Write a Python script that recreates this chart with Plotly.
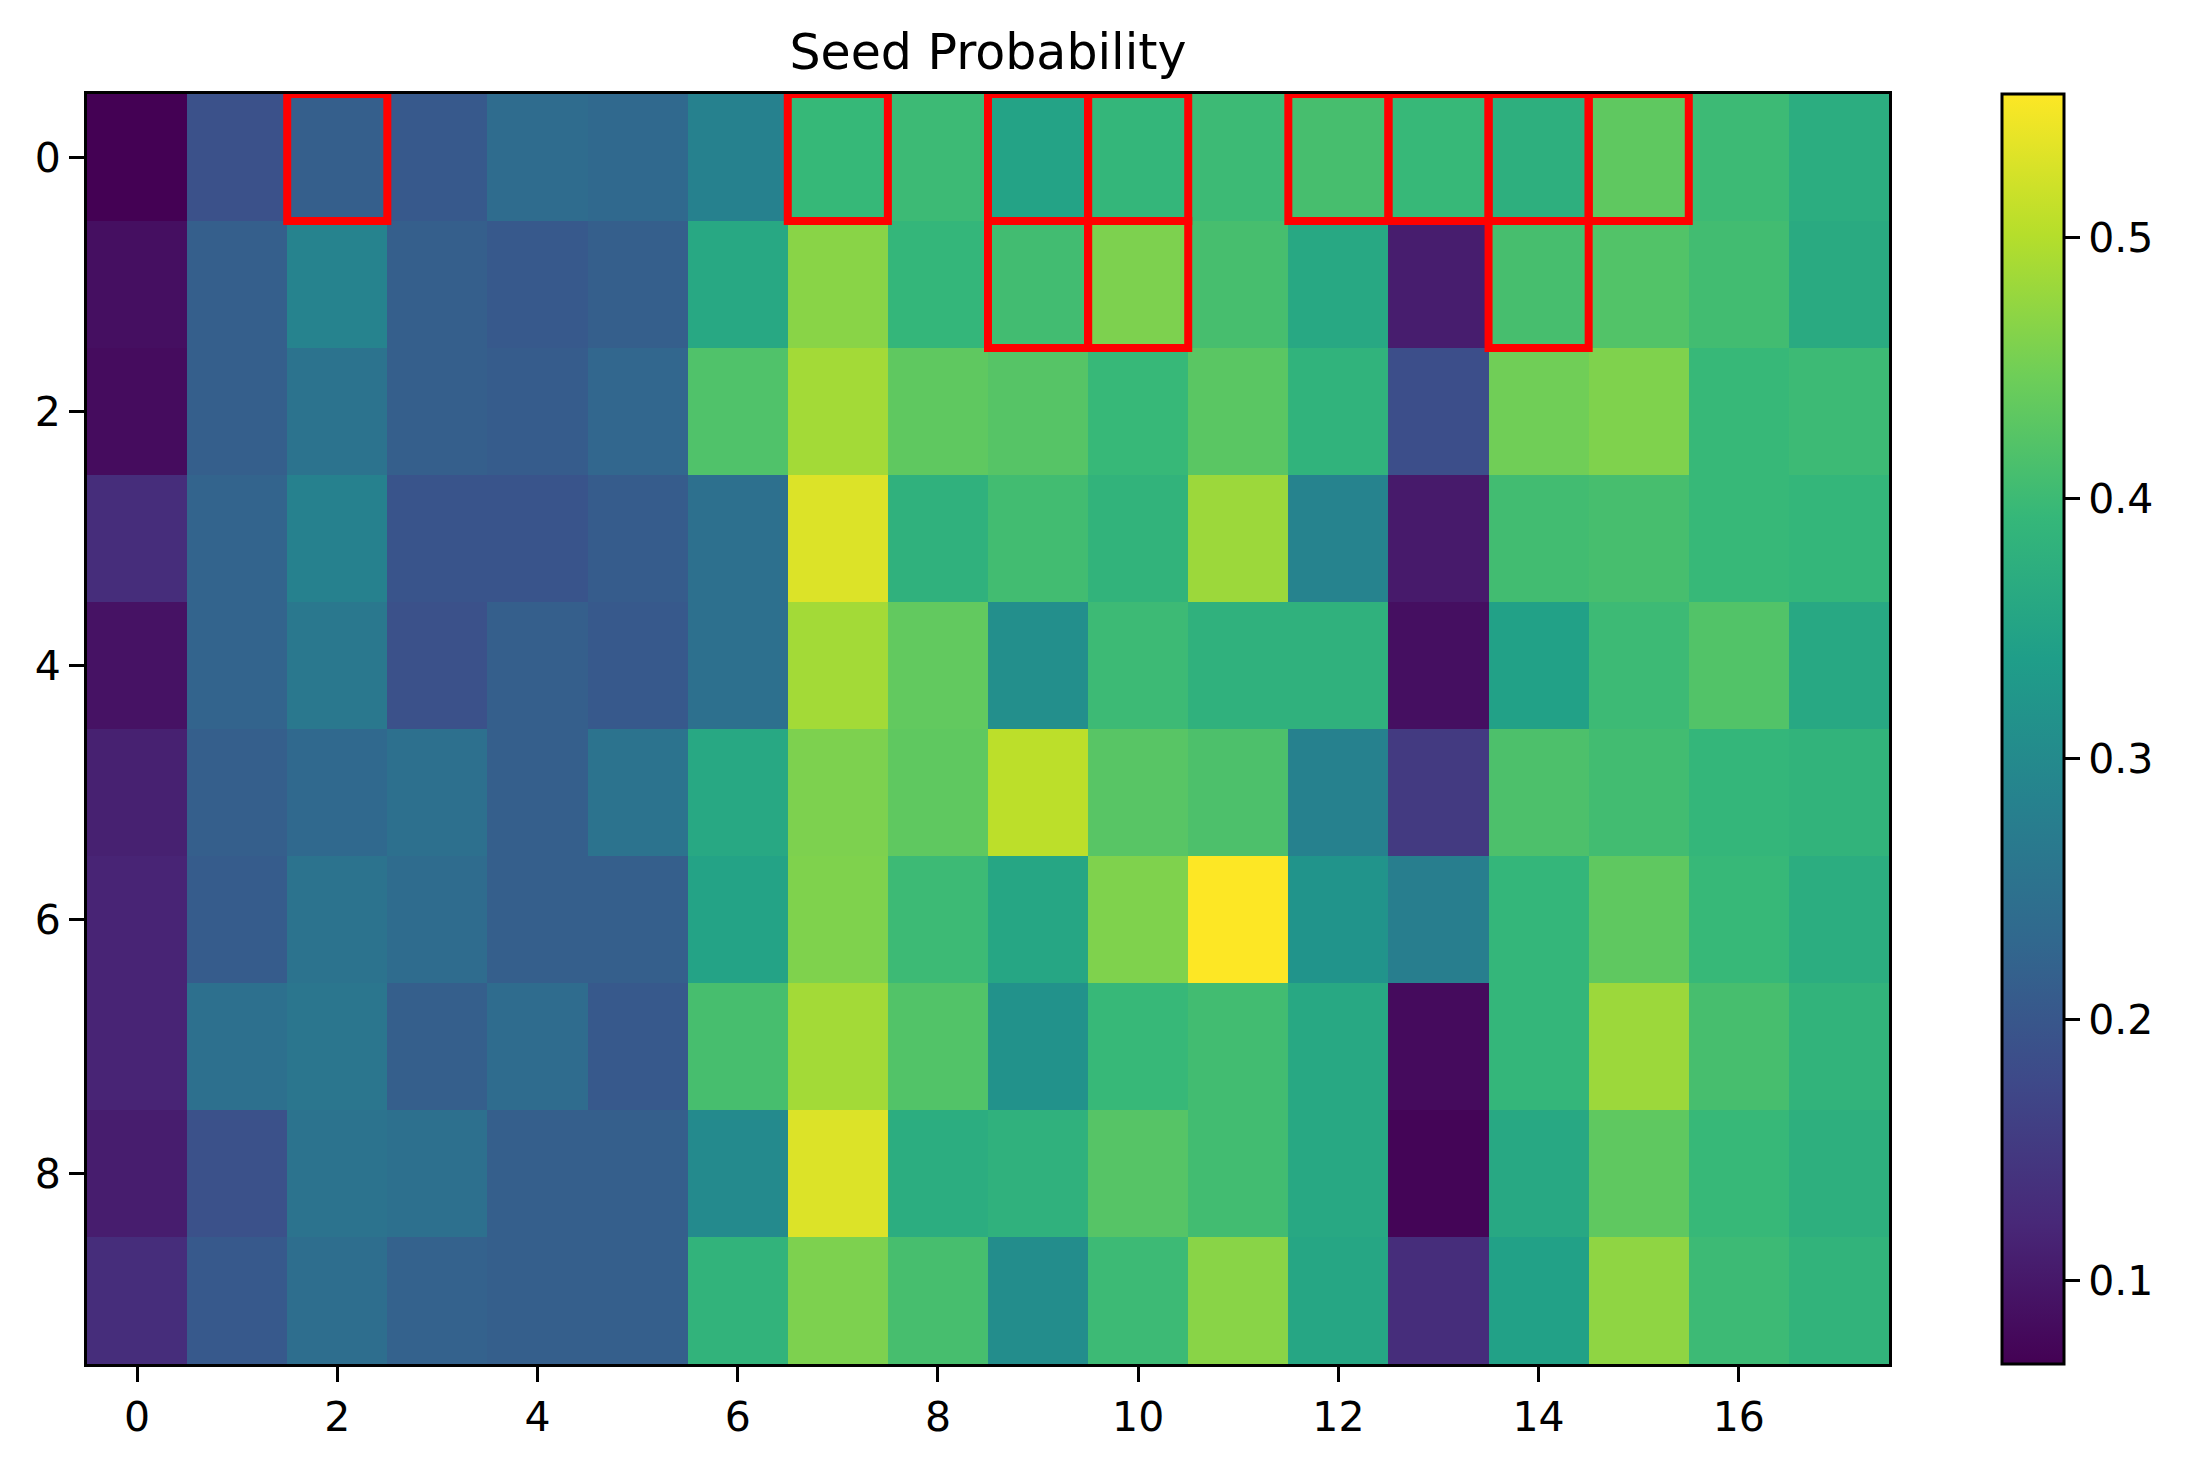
import plotly.graph_objects as go

# Seed probability grid (rows 0..9, columns 0..17)
row0 = [0.068, 0.190, 0.214, 0.204, 0.238, 0.233, 0.282, 0.394, 0.400, 0.350, 0.390, 0.400, 0.410, 0.395, 0.375, 0.433, 0.400, 0.370]
row1 = [0.087, 0.214, 0.287, 0.214, 0.204, 0.214, 0.360, 0.467, 0.390, 0.405, 0.458, 0.410, 0.360, 0.107, 0.410, 0.420, 0.405, 0.365]
row2 = [0.083, 0.214, 0.253, 0.214, 0.210, 0.228, 0.418, 0.487, 0.433, 0.424, 0.395, 0.428, 0.384, 0.185, 0.448, 0.460, 0.395, 0.400]
row3 = [0.131, 0.224, 0.282, 0.195, 0.195, 0.210, 0.248, 0.530, 0.380, 0.405, 0.385, 0.482, 0.287, 0.102, 0.405, 0.410, 0.395, 0.390]
row4 = [0.092, 0.224, 0.263, 0.190, 0.214, 0.204, 0.248, 0.487, 0.435, 0.310, 0.400, 0.380, 0.380, 0.087, 0.345, 0.400, 0.420, 0.360]
row5 = [0.112, 0.214, 0.233, 0.248, 0.214, 0.253, 0.360, 0.458, 0.433, 0.506, 0.426, 0.415, 0.282, 0.151, 0.415, 0.405, 0.390, 0.385]
row6 = [0.117, 0.210, 0.253, 0.238, 0.214, 0.214, 0.350, 0.460, 0.400, 0.355, 0.460, 0.555, 0.320, 0.277, 0.390, 0.433, 0.395, 0.370]
row7 = [0.117, 0.248, 0.260, 0.214, 0.238, 0.204, 0.410, 0.487, 0.420, 0.315, 0.395, 0.405, 0.360, 0.082, 0.390, 0.482, 0.410, 0.385]
row8 = [0.107, 0.190, 0.253, 0.248, 0.214, 0.214, 0.300, 0.530, 0.370, 0.380, 0.424, 0.405, 0.360, 0.073, 0.360, 0.433, 0.395, 0.375]
row9 = [0.131, 0.204, 0.243, 0.219, 0.214, 0.214, 0.385, 0.458, 0.410, 0.305, 0.400, 0.467, 0.355, 0.131, 0.345, 0.472, 0.400, 0.385]
z_values = [row0, row1, row2, row3, row4, row5, row6, row7, row8, row9]

# Highlighted cells (row, column)
highlight_cells = [(0, 2), (0, 7), (0, 9), (0, 10), (0, 12), (0, 13), (0, 14), (0, 15),
                   (1, 9), (1, 10), (1, 14)]

x_ticks = [0, 2, 4, 6, 8, 10, 12, 14, 16]
y_ticks = [0, 2, 4, 6, 8]
cbar_ticks = [0.1, 0.2, 0.3, 0.4, 0.5]
title_text = "Seed Probability"

n_rows = len(z_values)
n_cols = len(z_values[0])

FONT = "DejaVu Sans"
W, H = 2191, 1466
ML, MR, MT, MB = 87, 302, 94, 102
plot_w = W - ML - MR

fig = go.Figure()
fig.add_trace(go.Heatmap(
    z=z_values,
    x=list(range(n_cols)),
    y=list(range(n_rows)),
    colorscale="Viridis",
    colorbar=dict(
        x=(2002 - ML) / plot_w, xanchor="left", xpad=0, ypad=0,
        y=0.5, yanchor="middle", len=1, lenmode="fraction",
        thickness=62, thicknessmode="pixels",
        outlinecolor="black", outlinewidth=3,
        ticks="outside", ticklen=15, tickwidth=3, tickcolor="black",
        tickvals=cbar_ticks, ticktext=[f"{t:.1f}" for t in cbar_ticks],
        tickfont=dict(family=FONT, size=41, color="black"),
    ),
    hoverongaps=False,
))

for (r, c) in highlight_cells:
    fig.add_shape(type="rect", xref="x", yref="y",
                  x0=c - 0.5, x1=c + 0.5, y0=r - 0.5, y1=r + 0.5,
                  line=dict(color="red", width=8), fillcolor="rgba(0,0,0,0)",
                  layer="above")

axis_common = dict(showgrid=False, zeroline=False, showline=True, linecolor="black",
                   linewidth=3, mirror=True, ticks="outside", ticklen=15, tickwidth=3,
                   tickcolor="black", tickfont=dict(family=FONT, size=41, color="black"))

fig.update_xaxes(range=[-0.5, n_cols - 0.5], tickvals=x_ticks, **axis_common)
fig.update_yaxes(range=[n_rows - 0.5, -0.5], tickvals=y_ticks, **axis_common)

fig.update_layout(
    width=W, height=H,
    margin=dict(l=ML, r=MR, t=MT, b=MB, pad=0),
    paper_bgcolor="white", plot_bgcolor="white",
    title=dict(text=title_text, x=0.5, xref="paper", xanchor="center",
               y=1 - 52 / H, yref="container", yanchor="middle",
               font=dict(family=FONT, size=49, color="black")),
    font=dict(family=FONT, color="black"),
)

fig.write_html("out.html")
